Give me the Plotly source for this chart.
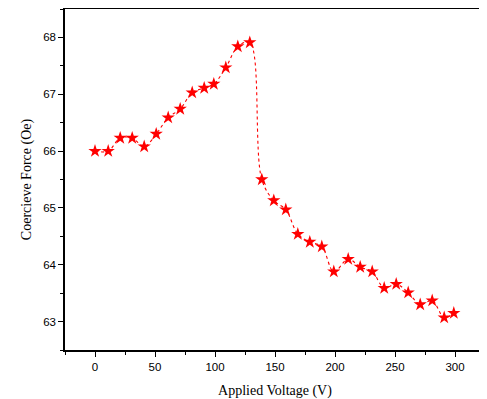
import plotly.graph_objects as go

voltage = [0, 11, 21, 31, 41, 51, 61, 71, 81, 91, 99, 109, 119, 129, 139,
           149, 159, 169, 179, 189, 199, 211, 221, 231, 241, 251, 261, 271, 281, 291, 299]
coercive = [66.00, 66.00, 66.23, 66.23, 66.08, 66.30, 66.59, 66.74, 67.03, 67.11, 67.18,
            67.47, 67.84, 67.91, 65.50, 65.13, 64.97, 64.54, 64.40, 64.32, 63.88,
            64.10, 63.96, 63.88, 63.59, 63.66, 63.51, 63.30, 63.37, 63.07, 63.15]

x_ticks = [0, 50, 100, 150, 200, 250, 300]
y_ticks = [63, 64, 65, 66, 67, 68]

fig = go.Figure()
fig.add_trace(go.Scatter(
    x=voltage, y=coercive, mode="lines+markers",
    line=dict(color="red", width=1.1, dash="dot", shape="spline", smoothing=1.0),
    marker=dict(symbol="star", size=10, color="red", line=dict(width=0)),
    showlegend=False,
))

axis_common = dict(
    showline=True, linecolor="black", linewidth=1.5, mirror=True,
    ticks="outside", ticklen=5, tickwidth=1.2, tickcolor="black",
    showgrid=False, zeroline=False,
    tickfont=dict(family="Liberation Sans, Arial", size=11.5, color="black"),
)

# the page body adds an 8px offset, so the figure is sized to fit the window
fig.update_layout(
    width=479, height=391,
    margin=dict(l=57, r=2, t=1, b=49),
    plot_bgcolor="white", paper_bgcolor="white",
    xaxis=dict(
        range=[-25, 325], tickvals=x_ticks,
        minor=dict(dtick=25, tick0=0, ticks="outside", ticklen=3, tickcolor="black", tickwidth=1),
        title=dict(text="Applied Voltage (V)", standoff=14,
                   font=dict(family="Liberation Serif, Times New Roman", size=14, color="black")),
        automargin=False,
        **axis_common,
    ),
    yaxis=dict(
        range=[62.5, 68.5], tickvals=y_ticks,
        minor=dict(dtick=0.5, tick0=62.5, ticks="outside", ticklen=3, tickcolor="black", tickwidth=1),
        title=dict(text="Coercieve Force (Oe)", standoff=8,
                   font=dict(family="Liberation Serif, Times New Roman", size=14, color="black")),
        automargin=False,
        **axis_common,
    ),
)

fig.write_html("out.html")
